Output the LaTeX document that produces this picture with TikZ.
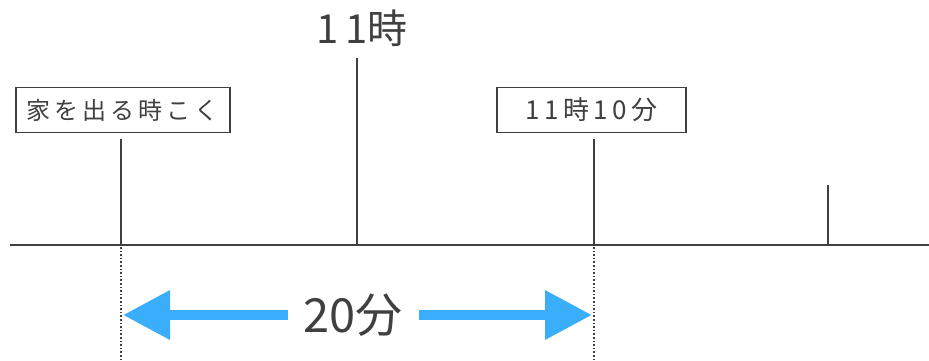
\documentclass[tikz,border=0pt]{standalone}
\usepackage{fontspec}
\setmainfont{Noto Sans CJK JP}
\usetikzlibrary{arrows.meta}
\definecolor{ink}{HTML}{404040}
\definecolor{arrowblue}{HTML}{3AAEFB}
\tikzset{
  axis/.style={draw=ink, line width=2.4pt},
  tick/.style={draw=ink, line width=2.4pt},
  guide/.style={draw=ink, line width=1.6pt, dotted},
  labelbox/.style={draw=ink, line width=1.6pt, fill=white, inner sep=0pt, text=ink, font=\fontsize{24}{24}\selectfont},
  span/.style={draw=arrowblue, line width=10pt, -{Triangle[length=47pt,width=47pt]}},
}
\begin{document}
\begin{tikzpicture}[x=1pt,y=-1pt]
\useasboundingbox (0,0) rectangle (929,360);
% axis
\coordinate (L) at (10,245);
\coordinate (R) at (929,245);
\draw[axis] (L) -- (R);
% ticks
\coordinate (t1b) at (121,245); \coordinate (t1t) at (121,139);
\coordinate (t2b) at (357,245); \coordinate (t2t) at (357,58);
\coordinate (t3b) at (594,245); \coordinate (t3t) at (594,139);
\coordinate (t4b) at (828,245); \coordinate (t4t) at (828,185);
\draw[tick] (t1b) -- (t1t);
\draw[tick] (t2b) -- (t2t);
\draw[tick] (t3b) -- (t3t);
\draw[tick] (t4b) -- (t4t);
% labels
\node[labelbox, minimum width=214pt, minimum height=45pt] (home) at (123,110) {家\,を\,出\,る\,時\,こ\,く};
\node[labelbox, minimum width=189pt, minimum height=45pt, font=\fontsize{26}{26}\selectfont] (ten) at (591.5,110) {1\,1\,時\,1\,0\,分};
\node[text=ink, font=\fontsize{40}{40}\selectfont, inner sep=0pt] (eleven) at (362,28) {1\,1時};
% dotted guides
\coordinate (g1t) at (121,247); \coordinate (g1b) at (121,360);
\coordinate (g3t) at (594,247); \coordinate (g3b) at (594,360);
\draw[guide] (g1t) -- (g1b);
\draw[guide] (g3t) -- (g3b);
% span
\node[text=ink, font=\fontsize{47}{47}\selectfont, inner sep=0pt] (dur) at (353,315) {20分};
\coordinate (al) at (123,315);
\coordinate (ar) at (592,315);
\coordinate (ml) at (288,315);
\coordinate (mr) at (419,315);
\draw[span] (ml) -- (al);
\draw[span] (mr) -- (ar);
\end{tikzpicture}
\end{document}
